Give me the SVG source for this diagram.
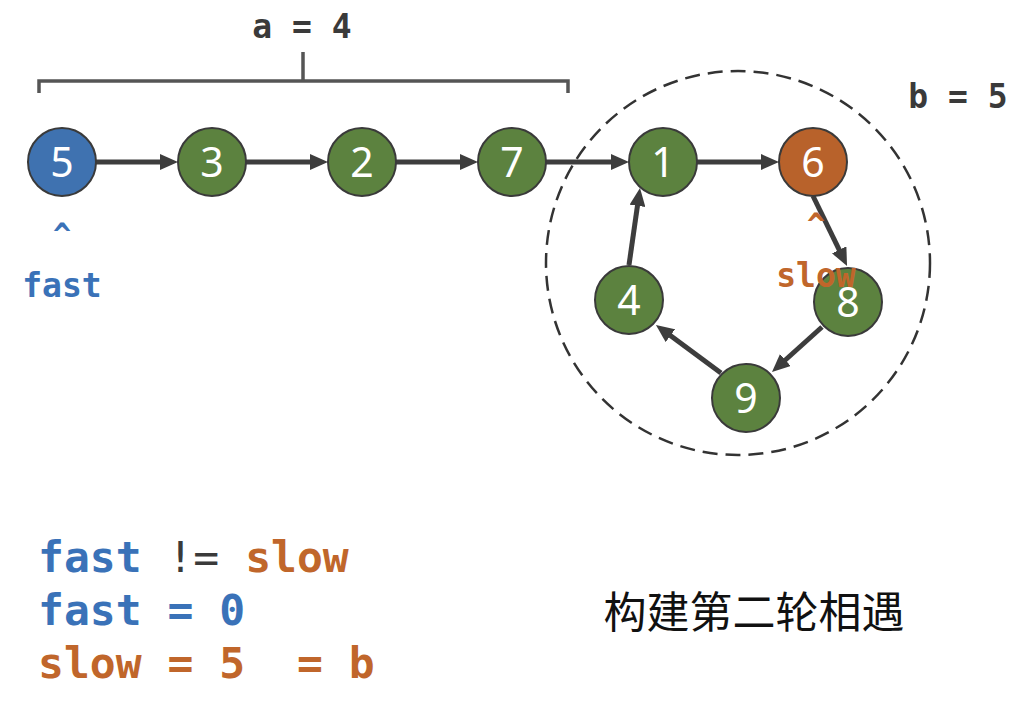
<svg xmlns="http://www.w3.org/2000/svg" width="1014" height="708" viewBox="0 0 1014 708">
<style>
.node circle{stroke:#3a3a3a;stroke-width:2}
.g{fill:#5c823f}
.bl{fill:#3f72b0}
.or{fill:#b8622b}
.num{font-family:"Noto Sans","Open Sans",sans-serif;font-size:41px;fill:#fff;text-anchor:middle}
.mono{font-family:"DejaVu Sans Mono","Liberation Mono",monospace;font-weight:bold;white-space:pre}
.edge{stroke:#3d3d3d;stroke-width:5;fill:none;marker-end:url(#ah)}
.tb{fill:#3a72b8}
.to{fill:#c0662b}
.td{fill:#3a3a3a}
</style>
<defs>
<marker id="ah" markerUnits="userSpaceOnUse" markerWidth="18" markerHeight="16" refX="6" refY="8" orient="auto">
<path d="M0,0 L18,8 L0,16 z" fill="#3d3d3d"/>
</marker>
</defs>
<rect width="1014" height="708" fill="#fff"/>
<g id="bracket" fill="none" stroke="#555" stroke-width="3.5">
<path d="M39,93 V81 H568 V93"/>
<path d="M303,81 V52"/>
</g>
<text class="mono td" x="302" y="38" font-size="33" text-anchor="middle">a = 4</text>
<text class="mono td" x="958" y="108" font-size="33" text-anchor="middle">b = 5</text>
<circle id="cycle" cx="738" cy="263" r="192" fill="none" stroke="#333" stroke-width="2.5" stroke-dasharray="15 8"/>
<g id="connectors">
<line class="edge" x1="96" y1="162" x2="166" y2="162"/>
<line class="edge" x1="246" y1="162" x2="316" y2="162"/>
<line class="edge" x1="396" y1="162" x2="466" y2="162"/>
<line class="edge" x1="546" y1="162" x2="617" y2="162"/>
<line class="edge" x1="697" y1="162" x2="767" y2="162"/>
<line class="edge" x1="813" y1="196" x2="841.8" y2="255.2"/>
<line class="edge" x1="822" y1="327" x2="780.9" y2="364"/>
<line class="edge" x1="721" y1="373" x2="665.6" y2="332.1"/>
<line class="edge" x1="629" y1="265" x2="638.3" y2="199.9"/>
</g>
<g id="n5" class="node"><circle class="bl" cx="62" cy="162" r="34"/><text class="num" x="62" y="177">5</text></g>
<g id="n3" class="node"><circle class="g" cx="212" cy="162" r="34"/><text class="num" x="212" y="177">3</text></g>
<g id="n2" class="node"><circle class="g" cx="362" cy="162" r="34"/><text class="num" x="362" y="177">2</text></g>
<g id="n7" class="node"><circle class="g" cx="512" cy="162" r="34"/><text class="num" x="512" y="177">7</text></g>
<g id="n1" class="node"><circle class="g" cx="663" cy="162" r="34"/><text class="num" x="663" y="177">1</text></g>
<g id="n6" class="node"><circle class="or" cx="813" cy="162" r="34"/><text class="num" x="813" y="177">6</text></g>
<g id="n4" class="node"><circle class="g" cx="629" cy="300" r="34"/><text class="num" x="629" y="315">4</text></g>
<g id="n8" class="node"><circle class="g" cx="848" cy="302" r="34"/><text class="num" x="848" y="317">8</text></g>
<g id="n9" class="node"><circle class="g" cx="746" cy="398" r="34"/><text class="num" x="746" y="413">9</text></g>
<g id="fast-label" class="mono tb" text-anchor="middle">
<text x="62" y="245" font-size="30">^</text>
<text x="62" y="297" font-size="33">fast</text>
</g>
<g id="slow-label" class="mono to" text-anchor="middle">
<text x="816" y="235" font-size="30">^</text>
<text x="816" y="287" font-size="33">slow</text>
</g>
<g id="code" class="mono" font-size="43">
<text x="38" y="572"><tspan class="tb">fast</tspan><tspan class="td" font-weight="normal"> != </tspan><tspan class="to">slow</tspan></text>
<text x="38" y="625" class="tb">fast = 0</text>
<text x="38" y="678" class="to" xml:space="preserve">slow = 5  = b</text>
</g>
<text x="754" y="628" font-family="'Noto Sans CJK SC',sans-serif" font-size="43" fill="#111" text-anchor="middle">构建第二轮相遇</text>
</svg>
